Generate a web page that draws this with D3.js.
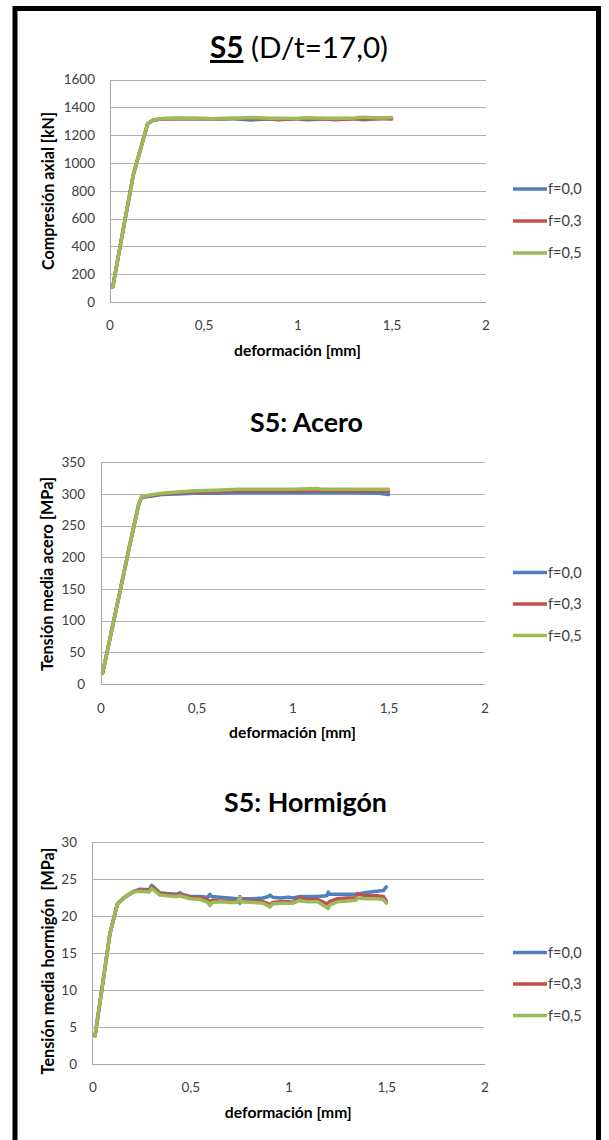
<!DOCTYPE html>
<html><head><meta charset="utf-8">
<script src="https://cdn.jsdelivr.net/npm/d3@7"></script>
<style>
body{margin:0;background:#fff}
svg{display:block}
text{font-family:Lato,"Open Sans",sans-serif}
</style>
</head><body>
<svg id="c" width="609" height="1140"></svg>
<script>
// ---------- data ----------
const seriesNames = ["f=0,0", "f=0,3", "f=0,5"];
const seriesColors = ["#4F81BD", "#C0504D", "#9BBB59"];
const xTicks = [0, 0.5, 1, 1.5, 2];
const xTickLabels = ["0", "0,5", "1", "1,5", "2"];

// Chart 1: Compresión axial [kN]
const axialTicks = [0, 200, 400, 600, 800, 1000, 1200, 1400, 1600];
const axialX = [0.017, 0.07, 0.127, 0.165, 0.203, 0.233, 0.286, 0.35, 0.45, 0.55, 0.6, 0.65, 0.75, 0.85, 0.9, 1.0, 1.05, 1.15, 1.2, 1.3, 1.35, 1.45, 1.5];
const axialF00 = [106, 500, 917, 1100, 1283, 1309, 1318, 1320, 1318, 1316, 1318, 1320, 1310, 1318, 1320, 1318, 1312, 1318, 1320, 1318, 1312, 1322, 1325];
const axialF03 = [106, 500, 917, 1100, 1283, 1309, 1316, 1318, 1320, 1318, 1316, 1320, 1320, 1316, 1312, 1318, 1320, 1316, 1312, 1318, 1320, 1318, 1316];
const axialF05 = [106, 500, 917, 1100, 1283, 1309, 1320, 1323, 1322, 1318, 1322, 1320, 1328, 1322, 1320, 1322, 1326, 1322, 1320, 1324, 1330, 1324, 1328];

// Chart 2: Tensión media acero [MPa]
const steelTicks = [0, 50, 100, 150, 200, 250, 300, 350];
const steelX = [0.011, 0.06, 0.1, 0.15, 0.2, 0.215, 0.25, 0.319, 0.4, 0.49, 0.6, 0.718, 0.85, 1.0, 1.13, 1.15, 1.3, 1.45, 1.5];
const steelF00 = [17, 87, 144, 216, 285, 295, 296, 299, 300, 301, 301, 302, 302, 302, 302, 302, 302, 301, 299];
const steelF03 = [17, 87, 144, 216, 285, 295, 297, 300, 302, 303, 304, 305, 305, 305, 305, 306, 305, 305, 304];
const steelF05 = [17, 87, 144, 216, 285, 296, 298, 301, 303, 305, 306, 307.5, 307.5, 307.5, 308.5, 307.5, 307.5, 307.5, 307.5];

// Chart 3: Tensión media hormigón [MPa]
const concTicks = [0, 5, 10, 15, 20, 25, 30];
const concX = [0.014, 0.05, 0.09, 0.128, 0.16, 0.209, 0.243, 0.29, 0.303, 0.345, 0.38, 0.43, 0.447, 0.46, 0.5, 0.55, 0.59, 0.6, 0.61, 0.65, 0.7, 0.74, 0.753, 0.76, 0.82, 0.87, 0.9, 0.907, 0.92, 0.96, 1.0, 1.025, 1.06, 1.065, 1.1, 1.15, 1.196, 1.204, 1.21, 1.25, 1.3, 1.345, 1.352, 1.39, 1.45, 1.485, 1.5];
const concF00 = [3.8, 10.3, 17.6, 21.6, 22.4, 23.25, 23.6, 23.5, 24.1, 23.1, 23.0, 22.9, 23.1, 22.9, 22.6, 22.6, 22.5, 22.9, 22.6, 22.5, 22.4, 22.3, 21.7, 22.3, 22.3, 22.4, 22.6, 22.8, 22.5, 22.4, 22.5, 22.4, 22.6, 22.6, 22.6, 22.6, 22.7, 23.2, 22.9, 22.9, 22.9, 22.9, 22.9, 23.1, 23.3, 23.4, 23.9];
const concF03 = [3.8, 10.3, 17.6, 21.6, 22.4, 23.25, 23.5, 23.4, 23.9, 23.0, 22.9, 22.8, 22.9, 22.8, 22.5, 22.4, 22.1, 21.8, 22.1, 22.0, 22.0, 21.9, 22.6, 22.1, 22.0, 21.9, 21.6, 21.5, 21.8, 21.9, 21.9, 21.8, 22.5, 22.3, 22.2, 22.2, 21.6, 21.7, 21.9, 22.3, 22.4, 22.4, 23.0, 22.7, 22.7, 22.6, 22.0];
const concF05 = [3.8, 10.3, 17.6, 21.6, 22.4, 23.25, 23.3, 23.2, 23.7, 22.8, 22.7, 22.6, 22.7, 22.6, 22.3, 22.2, 21.8, 21.4, 21.8, 21.9, 21.8, 21.8, 22.5, 21.9, 21.8, 21.7, 21.3, 21.2, 21.6, 21.7, 21.7, 21.7, 22.1, 22.0, 21.9, 21.9, 21.1, 21.0, 21.4, 21.9, 22.0, 22.1, 22.4, 22.3, 22.3, 22.2, 21.7];

// ---------- drawing ----------
const svg = d3.select("#c");
const FONT = 'Lato,"Open Sans",sans-serif';

function fit(sel, target) {
  const w = sel.node().getComputedTextLength();
  const fs = parseFloat(sel.attr("font-size"));
  sel.attr("font-size", (fs * target / w).toFixed(2));
}

function drawChart(cfg) {
  const x = d3.scaleLinear().domain([0, 2]).range([cfg.x0, cfg.x1]);
  const y = d3.scaleLinear().domain([0, cfg.ticks[cfg.ticks.length - 1]]).range([cfg.yb, cfg.yt]);
  const g = svg.append("g");

  // y axis + gridlines
  const ya = g.append("g").attr("transform", `translate(${cfg.x0},0)`)
    .call(d3.axisLeft(y).tickValues(cfg.ticks).tickFormat(d => String(d))
      .tickSize(-(cfg.x1 - cfg.x0)).tickSizeOuter(0).tickPadding(cfg.ypad));
  ya.select(".domain").attr("stroke", "#a6a6a6").attr("shape-rendering", "crispEdges");
  ya.selectAll(".tick line").attr("stroke", "#b0b0b0").attr("shape-rendering", "crispEdges");
  ya.selectAll(".tick text").attr("font-family", FONT).attr("font-size", 13.5).attr("fill", "#404040");

  // x axis
  const xa = g.append("g").attr("transform", `translate(0,${cfg.yb})`)
    .call(d3.axisBottom(x).tickValues(xTicks).tickFormat((d, i) => xTickLabels[i]).tickSize(0).tickPadding(cfg.xpad));
  xa.select(".domain").attr("stroke", "#a6a6a6").attr("shape-rendering", "crispEdges");
  xa.selectAll(".tick text").attr("font-family", FONT).attr("font-size", 13.5).attr("fill", "#404040");

  // series
  const line = d3.line().x(d => x(d[0])).y(d => y(d[1]));
  cfg.series.forEach((vals, i) => {
    const pts = cfg.xs.map((xv, j) => [xv, vals[j]]);
    g.append("path").datum(pts).attr("d", line)
      .attr("fill", "none").attr("stroke", seriesColors[i])
      .attr("stroke-width", 3.5).attr("stroke-linejoin", "round").attr("stroke-linecap", "round");
  });

  // legend
  seriesNames.forEach((n, i) => {
    const ly = cfg.legendY[i];
    g.append("line").attr("x1", 513).attr("x2", 547).attr("y1", ly).attr("y2", ly)
      .attr("stroke", seriesColors[i]).attr("stroke-width", 3.5);
    g.append("text").attr("x", 548).attr("y", ly).attr("dy", "0.35em")
      .attr("font-size", 14.5).attr("fill", "#404040").text(n);
  });

  // axis titles
  const xt = g.append("text").attr("x", (cfg.x0 + cfg.x1) / 2).attr("y", cfg.xTitleY).attr("dy", "0.35em")
    .attr("text-anchor", "middle").attr("font-weight", "bold").attr("font-size", 14).text("deformación [mm]");
  fit(xt, 127);
  const yt = g.append("text").attr("transform", `translate(${cfg.yTitleX},${cfg.yTitleY}) rotate(-90)`)
    .attr("dy", "0.35em").attr("text-anchor", "middle").attr("font-weight", "bold").attr("font-size", 14)
    .attr("xml:space", "preserve").text(cfg.yTitle);
  fit(yt, cfg.yTitleW);

  // chart title
  const tt = g.append("text").attr("x", cfg.titleX).attr("y", cfg.titleY).attr("text-anchor", "middle")
    .attr("font-size", 26).attr("fill", "#000");
  cfg.title(tt);
  fit(tt, cfg.titleW);
}

drawChart({
  x0: 109.5, x1: 485.5, yb: 302, yt: 79.6, ticks: axialTicks, ypad: 14.5, xpad: 18.5,
  xs: axialX, series: [axialF00, axialF03, axialF05],
  legendY: [189, 221, 253],
  xTitleY: 351, yTitleX: 48, yTitleY: 191, yTitle: "Compresión axial [kN]", yTitleW: 158,
  titleX: 299, titleY: 58, titleW: 178,
  title: t => {
    t.append("tspan").attr("font-weight", "bold").style("text-decoration", "underline").text("S5");
    t.append("tspan").attr("font-weight", "normal").text(" (D/t=17,0)");
  }
});

drawChart({
  x0: 100.5, x1: 484.5, yb: 684, yt: 462.3, ticks: steelTicks, ypad: 15.5, xpad: 19.5,
  xs: steelX, series: [steelF00, steelF03, steelF05],
  legendY: [572.5, 604, 635.5],
  xTitleY: 733, yTitleX: 47, yTitleY: 574, yTitle: "Tensión media acero [MPa]", yTitleW: 194,
  titleX: 306.5, titleY: 432, titleW: 113,
  title: t => t.attr("font-weight", "bold").text("S5: Acero")
});

drawChart({
  x0: 92.3, x1: 484.3, yb: 1064, yt: 841.7, ticks: concTicks, ypad: 15.3, xpad: 18.5,
  xs: concX, series: [concF00, concF03, concF05],
  legendY: [952.5, 984, 1015.5],
  xTitleY: 1113, yTitleX: 48, yTitleY: 961, yTitle: "Tensión media hormigón  [MPa]", yTitleW: 227,
  titleX: 305.5, titleY: 812, titleW: 163,
  title: t => t.attr("font-weight", "bold").text("S5: Hormigón")
});

// outer frame (bottom edge cut off)
svg.append("path").attr("d", "M15,1145 L15,8.5 L598.5,8.5 L598.5,1145")
  .attr("fill", "none").attr("stroke", "#000").attr("stroke-width", 5);
</script>
</body></html>
